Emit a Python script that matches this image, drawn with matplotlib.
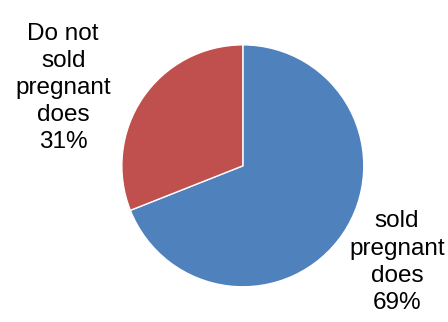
import matplotlib.pyplot as plt

# data
labels = ['sold\npregnant\ndoes', 'Do not\nsold\npregnant\ndoes']
shares = [69, 31]
colors = ['#4F81BD', '#C0504D']

plt.rcParams['font.family'] = ['Liberation Sans', 'DejaVu Sans']

fig = plt.figure(figsize=(4.48, 3.22), dpi=100)
ax = fig.add_axes([0.272, 0.109, 0.540, 0.752])
ax.pie(shares, colors=colors, startangle=90, counterclock=False,
       wedgeprops=dict(edgecolor='white', linewidth=1))
ax.set_xlim(-1, 1)
ax.set_ylim(-1, 1)
ax.set_aspect('equal')

# label text positions (figure coords)
pos = [(0.886, 0.186), (0.141, 0.727)]
for lab, val, (x, y) in zip(labels, shares, pos):
    fig.text(x, y, '%s\n%d%%' % (lab, val), ha='center', va='center',
             fontsize=17.5, linespacing=1.3)

fig.savefig('out.png', dpi=100)
